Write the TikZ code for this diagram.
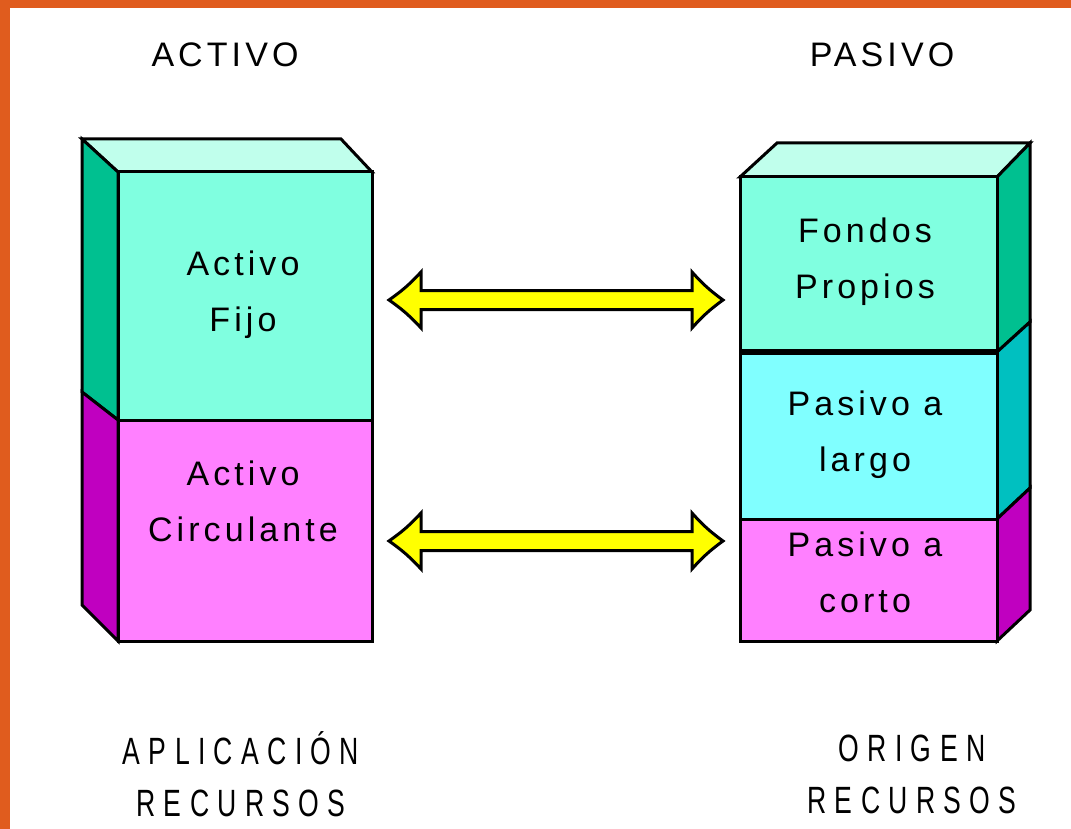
\documentclass[tikz,border=0pt]{standalone}
\usepackage{fontspec}
\setmainfont{Liberation Sans}
\newfontfamily\boxfont[LetterSpace=12]{Liberation Sans}
\newfontfamily\botfont[FakeStretch=0.7,LetterSpace=22]{Liberation Sans}
\definecolor{orangeframe}{RGB}{224,92,30}
\definecolor{topc}{RGB}{192,255,236}
\definecolor{fgreen}{RGB}{128,255,224}
\definecolor{sgreen}{RGB}{0,192,144}
\definecolor{fcyan}{RGB}{128,255,255}
\definecolor{scyan}{RGB}{0,192,192}
\definecolor{fmag}{RGB}{255,128,255}
\definecolor{smag}{RGB}{192,0,192}
\definecolor{arrowyellow}{RGB}{255,255,0}
\tikzset{
  face/.style={draw=black,line width=3pt,line join=miter},
  txt/.style={font=\boxfont\fontsize{34}{56}\selectfont,align=center,inner sep=0pt},
  title/.style={font=\boxfont\fontsize{34}{40}\selectfont,inner sep=0pt},
  bottom/.style={font=\botfont\fontsize{38}{52}\selectfont,align=center,inner sep=0pt},
  dbl/.style={draw=black,fill=arrowyellow,line width=3pt,line join=miter}
}
\begin{document}
\begin{tikzpicture}[x=1pt,y=-1pt]
\useasboundingbox (0,0) rectangle (1071,829);
% frame
\fill[orangeframe] (0,0) rectangle (1071,829);
\fill[white] (10,8) rectangle (1071,829);

% ---- left block
\filldraw[face,fill=topc] (82,139) -- (341,139) -- (372,172) -- (118,172) -- cycle;
\filldraw[face,fill=sgreen] (82,139) -- (118,172) -- (118,420) -- (82,392) -- cycle;
\filldraw[face,fill=smag] (82,392) -- (118,420) -- (118,641) -- (82,605) -- cycle;
\filldraw[face,fill=fgreen] (118,172) rectangle (372,420);
\filldraw[face,fill=fmag] (118,420) rectangle (372,641);
\node[txt] (fijo) at (243,295) {Activo\\Fijo};
\node[txt] (circ) at (243,501) {Activo\\Circulante};

% ---- right block
\filldraw[face,fill=topc] (740,177) -- (777,143) -- (1030,143) -- (997,177) -- cycle;
\filldraw[face,fill=sgreen] (997,177) -- (1030,143) -- (1030,322) -- (997,352) -- cycle;
\filldraw[face,fill=scyan] (997,352) -- (1030,322) -- (1030,488) -- (997,519) -- cycle;
\filldraw[face,fill=smag] (997,519) -- (1030,488) -- (1030,610) -- (997,641) -- cycle;
\filldraw[face,fill=fgreen] (740,177) rectangle (997,352);
\filldraw[face,fill=fcyan] (740,352) rectangle (997,519);
\filldraw[face,fill=fmag] (740,519) rectangle (997,641);
\draw[black,line width=6pt] (740,352) -- (997,352);
\node[txt] (fondos) at (865,262) {Fondos\\Propios};
\node[txt] (largo) at (865,435) {Pasivo a\\largo};
\node[txt] (corto) at (865,572) {Pasivo a\\corto};

% ---- arrows
\foreach \c in {300,541}{
  \filldraw[dbl] (389,\c) to[bend right=6] (421,\c-28) -- (421,\c-9.5) -- (692,\c-9.5) -- (692,\c-28)
     to[bend right=6] (723,\c) to[bend right=6] (692,\c+28) -- (692,\c+9.5) -- (421,\c+9.5) -- (421,\c+28)
     to[bend right=6] cycle;
}

% ---- titles
\node[title] (activo) at (225,55) {ACTIVO};
\node[title] (pasivo) at (882,55) {PASIVO};
\node[bottom] (aplic) at (241,774) {APLICACIÓN\\RECURSOS};
\node[bottom] (orig) at (912,774) {ORIGEN\\RECURSOS};
\end{tikzpicture}
\end{document}
